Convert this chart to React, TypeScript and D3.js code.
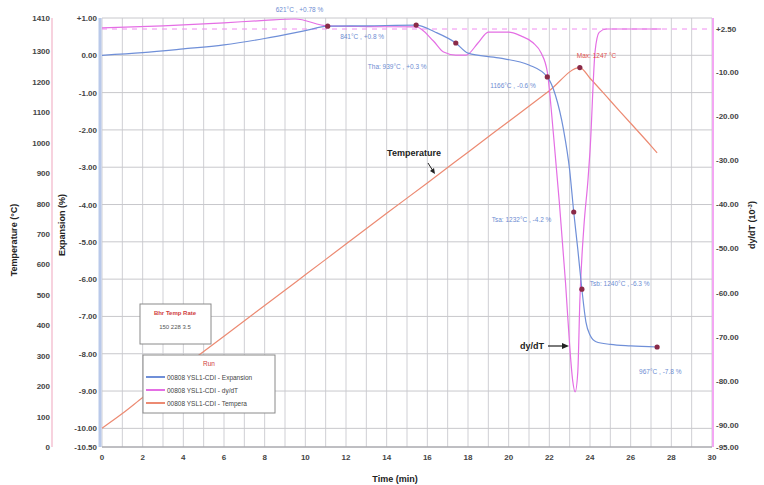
import React from 'react';
import * as d3 from 'd3';

// ---- axis ticks ----
const timeTicks = [0, 2, 4, 6, 8, 10, 12, 14, 16, 18, 20, 22, 24, 26, 28, 30];
const timeGrid = d3.range(0, 31, 1);
const tempTicks = [0, 100, 200, 300, 400, 500, 600, 700, 800, 900, 1000, 1100, 1200, 1300, 1410];
const expTicks = [1, 0, -1, -2, -3, -4, -5, -6, -7, -8, -9, -10, -10.5];
const dydtTicks = [2.5, -10, -20, -30, -40, -50, -60, -70, -80, -90, -95];

// ---- series ----
const tempTime = [0, 1, 2, 4, 6, 8, 10, 12, 14, 16, 18, 20, 22, 23.5, 24, 25, 26, 27, 27.3];
const tempValues = [62, 110, 163, 264, 364, 465, 566, 667, 768, 868, 969, 1070, 1171, 1247, 1212, 1138, 1064, 990, 967];

const expTime = [0, 2, 4, 6, 8, 10, 11.1, 13, 15.45, 16.4, 17.4, 18, 19.5, 21, 21.9, 22.3, 22.7, 23.0, 23.2, 23.4, 23.6, 23.8, 24.0, 24.3, 25, 26, 27.3];
const expValues = [0.0, 0.07, 0.17, 0.28, 0.45, 0.66, 0.78, 0.79, 0.81, 0.62, 0.33, 0.06, -0.07, -0.26, -0.58, -1.07, -2.0, -3.08, -4.2, -5.2, -6.27, -7.15, -7.5, -7.68, -7.75, -7.79, -7.82];

const dydtTime = [0, 3, 6, 8, 9.5, 11.1, 13, 15.45, 16.3, 16.8, 17.4, 17.9, 18.5, 19.0, 20.0, 20.6, 21.2, 21.6, 21.9, 22.2, 22.5, 22.8, 23.0, 23.15, 23.27, 23.4, 23.5, 23.7, 23.9, 24.0, 24.25, 24.45, 24.8, 26, 27.5];
const dydtValues = [2.8, 3.4, 4.3, 5.0, 5.4, 3.4, 3.2, 3.1, -1.0, -4.2, -5.1, -5.1, -1.5, 1.6, 1.6, 0.5, -1.5, -4.5, -10, -24, -40, -58, -72, -80, -82.5, -78, -62, -45, -34.5, -28, -4, 1.5, 2.5, 2.5, 2.5];

// ---- annotations ----
const expMarkerTimes = [11.1, 15.45, 17.4, 21.9, 23.2, 23.6, 27.3];
const expMarkerTexts = ['621°C , +0.78 %', '841°C , +0.8 %', 'Tha: 939°C , +0.3 %', '1166°C , -0.6 %', 'Tsa: 1232°C , -4.2 %', 'Tsb: 1240°C , -6.3 %', '967°C , -7.8 %'];
const expMarkerOffsets: [number, number][] = [[-52, -14], [-76, 14], [-88, 26], [-57, 11], [-82, 10], [8, -3], [-18, 27]];
const tempMaxTime = 23.5;
const tempMaxText = 'Max: 1247 °C';
const runName = 'Run';
const legendNames = ['00808 YSL1-CDI - Expansion', '00808 YSL1-CDI - dy/dT', '00808 YSL1-CDI - Tempera'];
const noteHeader = 'Bhr  Temp  Rate';
const noteRow = '150   228   3.5';

const W = 764, H = 485;
const X0 = 102, X1 = 712, YT = 18, YB = 447;

const BLUE = '#6f8fd8';
const PINK = '#e46ee4';
const SALMON = '#ec8a72';
const MARK = '#8a2a48';

export default function App() {
  const x = d3.scaleLinear().domain([0, 30]).range([X0, X1]);
  const yTemp = d3.scaleLinear().domain([0, 1410]).range([YB, YT]);
  const yExp = d3.scaleLinear().domain([-10.5, 1]).range([YB, YT]);
  const yD = d3.scaleLinear().domain([-95, -10, 2.5]).range([YB, 72, 29]);

  const lineTemp = d3.line<number>().x((d, i) => x(tempTime[i])).y((d) => yTemp(d)).curve(d3.curveMonotoneX);
  const lineExp = d3.line<number>().x((d, i) => x(expTime[i])).y((d) => yExp(d)).curve(d3.curveMonotoneX);
  const lineD = d3.line<number>().x((d, i) => x(dydtTime[i])).y((d) => yD(d)).curve(d3.curveMonotoneX);

  const expAt = (t: number) => expValues[expTime.indexOf(t)];
  const tempAt = (t: number) => tempValues[tempTime.indexOf(t)];

  const fmtExp = (v: number) => (v > 0 ? '+' + v.toFixed(2) : v.toFixed(2));
  const fmtD = (v: number) => (v > 0 ? '+' + v.toFixed(2) : v.toFixed(2));

  const font = 'Liberation Sans, Arial, sans-serif';

  return (
    <svg width={W} height={H} style={{ position: 'absolute', left: 0, top: 0, background: '#fff' }} fontFamily={font}>
      <rect x={0} y={0} width={W} height={H} fill="#fff" />
      {/* grid */}
      {timeGrid.map((t) => (
        <line key={'vg' + t} x1={x(t)} x2={x(t)} y1={YT} y2={YB} stroke="#cfcfd4" strokeWidth={1} />
      ))}
      {expTicks.map((v) => (
        <line key={'hg' + v} x1={X0} x2={X1} y1={yExp(v)} y2={yExp(v)} stroke="#c8c8cc" strokeWidth={1} />
      ))}
      {/* axes lines */}
      <line x1={52} x2={52} y1={YT} y2={YB} stroke="#f2b4c8" strokeWidth={1.2} />
      <line x1={100} x2={100} y1={YT} y2={YB} stroke="#b9c9ea" strokeWidth={3} />
      <line x1={X1 + 1} x2={X1 + 1} y1={YT} y2={YB} stroke="#f3a6f3" strokeWidth={2} />
      <line x1={X0} x2={X1} y1={YB} y2={YB} stroke="#9a9aa0" strokeWidth={1} />

      {/* tick labels */}
      {tempTicks.map((v) => (
        <text key={'tt' + v} x={50} y={yTemp(v) + 3} fontSize={8} fontWeight="bold" fill="#444" textAnchor="end">{v}</text>
      ))}
      {expTicks.map((v) => (
        <text key={'et' + v} x={97} y={yExp(v) + 3} fontSize={8} fontWeight="bold" fill="#444" textAnchor="end">{fmtExp(v)}</text>
      ))}
      {dydtTicks.map((v) => (
        <text key={'dt' + v} x={716} y={yD(v) + 3} fontSize={8} fontWeight="bold" fill="#444" textAnchor="start">{fmtD(v)}</text>
      ))}
      {timeTicks.map((t) => (
        <text key={'xt' + t} x={x(t)} y={460} fontSize={8} fontWeight="bold" fill="#444" textAnchor="middle">{t}</text>
      ))}

      {/* axis titles */}
      <text transform="translate(17,240) rotate(-90)" fontSize={9} fontWeight="bold" fill="#222" textAnchor="middle">Temperature (°C)</text>
      <text transform="translate(65,225) rotate(-90)" fontSize={9} fontWeight="bold" fill="#222" textAnchor="middle">Expansion (%)</text>
      <text transform="translate(755,225) rotate(-90)" fontSize={9} fontWeight="bold" fill="#222" textAnchor="middle">
        dy/dT (10<tspan dy={-3} fontSize={6}>-3</tspan><tspan dy={3}>)</tspan>
      </text>
      <text x={395} y={482} fontSize={9} fontWeight="bold" fill="#222" textAnchor="middle">Time (min)</text>

      {/* dashed baseline */}
      <line x1={X0} x2={X1} y1={yD(2.5)} y2={yD(2.5)} stroke="#f08cf0" strokeWidth={1} strokeDasharray="5,5" />

      {/* series */}
      <path d={lineTemp(tempValues) || ''} fill="none" stroke={SALMON} strokeWidth={1.2} />
      <path d={lineD(dydtValues) || ''} fill="none" stroke={PINK} strokeWidth={1.2} />
      <path d={lineExp(expValues) || ''} fill="none" stroke={BLUE} strokeWidth={1.2} />

      {/* markers and labels */}
      {expMarkerTimes.map((t, i) => (
        <g key={'m' + i}>
          <circle cx={x(t)} cy={yExp(expAt(t))} r={2.6} fill={MARK} />
          <text x={x(t) + expMarkerOffsets[i][0]} y={yExp(expAt(t)) + expMarkerOffsets[i][1]} fontSize={6.5} fill="#6d8cd2">{expMarkerTexts[i]}</text>
        </g>
      ))}
      <circle cx={x(tempMaxTime)} cy={yTemp(tempAt(tempMaxTime))} r={2.6} fill={MARK} />
      <text x={x(tempMaxTime) - 3} y={yTemp(tempAt(tempMaxTime)) - 10} fontSize={6.5} fill="#e0504a">{tempMaxText}</text>

      {/* annotations */}
      <text x={414} y={156} fontSize={9} fontWeight="bold" fill="#222" textAnchor="middle">Temperature</text>
      <line x1={428} y1={163} x2={433} y2={171} stroke="#222" strokeWidth={1} />
      <path d="M430,171 L435,174 L434,168 Z" fill="#222" />
      <text x={520} y={349} fontSize={9} fontWeight="bold" fill="#222">dy/dT</text>
      <line x1={548} y1={346} x2={565} y2={346} stroke="#222" strokeWidth={1.2} />
      <path d="M562,343 L569,346 L562,349 Z" fill="#222" />

      {/* note box */}
      <rect x={140} y={304} width={71} height={40} fill="#fff" stroke="#8a8a8a" strokeWidth={1} />
      <text x={175} y={315} fontSize={6} fill="#d04040" textAnchor="middle" fontWeight="bold">{noteHeader}</text>
      <text x={175} y={329} fontSize={6} fill="#555" textAnchor="middle">{noteRow}</text>

      {/* legend */}
      <rect x={143} y={355} width={132} height={58} fill="#fff" stroke="#8a8a8a" strokeWidth={1} />
      <text x={209} y={366} fontSize={6.5} fill="#d04040" textAnchor="middle">{runName}</text>
      {legendNames.map((n, i) => (
        <g key={'lg' + i}>
          <line x1={146} x2={165} y1={377 + i * 13} y2={377 + i * 13} stroke={[BLUE, PINK, SALMON][i]} strokeWidth={2} />
          <text x={167} y={379.5 + i * 13} fontSize={6.5} fill="#444">{n}</text>
        </g>
      ))}
    </svg>
  );
}
